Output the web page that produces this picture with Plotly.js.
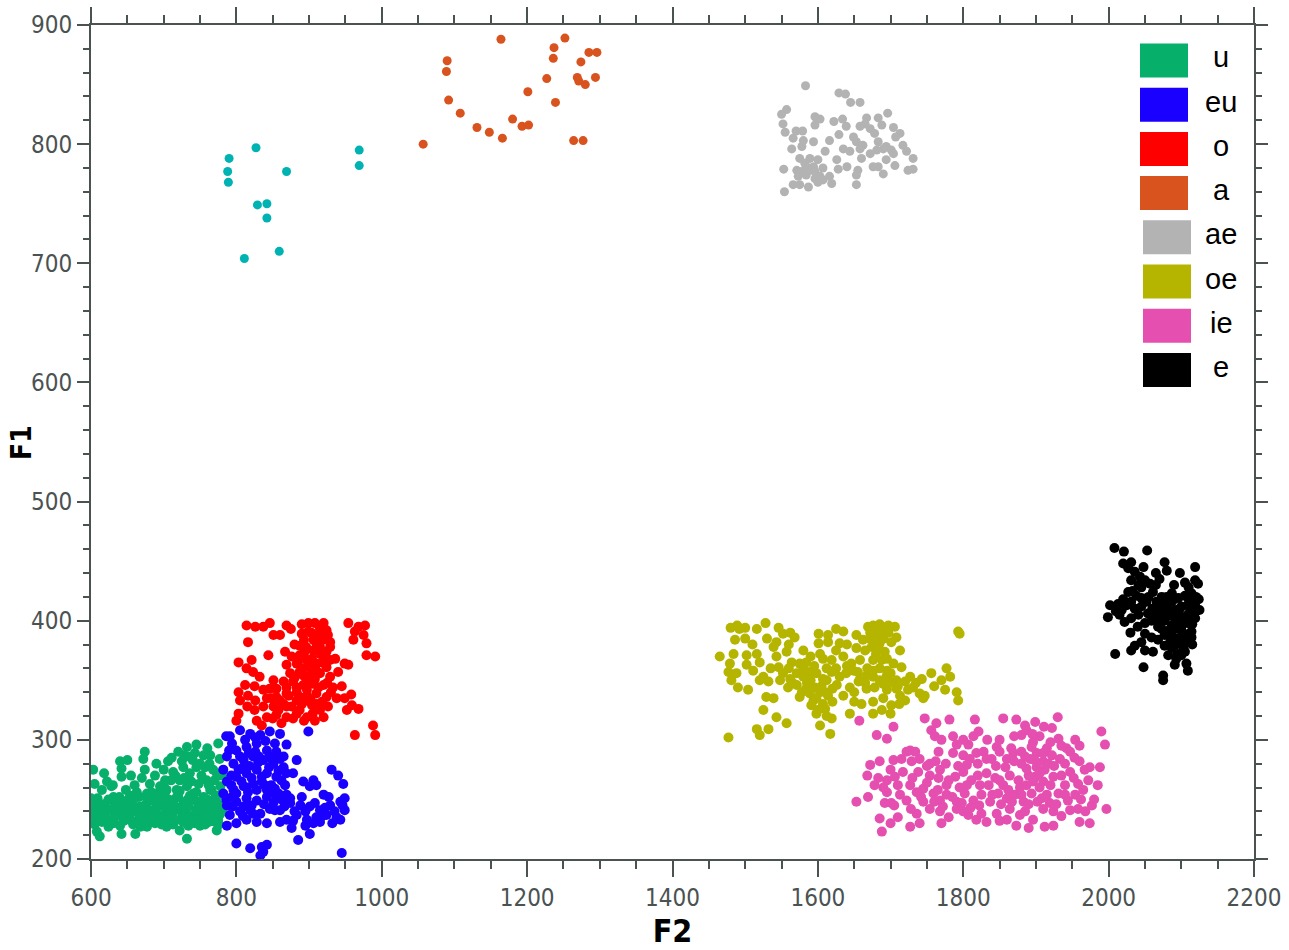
<!DOCTYPE html>
<html>
<head>
<meta charset="utf-8">
<script src="https://cdn.plot.ly/plotly-3.0.1.min.js"></script>
<style>html,body{margin:0;padding:0;background:#fff;}#chart{width:1289px;height:950px;}</style>
</head>
<body>
<div id="chart"></div>
<script>
// ---- data: [F2, F1] pairs ----
const legendNames = ['u','eu','o','a','ae','oe','ie','e'];
const legendColors = ['#06b06a','#1a00ff','#ff0000','#d9531e','#b3b3b3','#b5b500','#e54fb0','#000000'];
const extraColor = '#00b3b3';

const extra_pts = [[827,797],[790,788],[788,777],[789,768],[869,777],[969,795],[969,782],[829,749],[842,750],[842,738],[811,704],[859,710]];

const u_pts = [[601,248],[617,246],[631,249],[647,247],[658,250],[674,245],[688,248],[700,246],[713,249],[727,247],[739,250],[752,246],[766,248],[778,245],
[608,244],[624,242],[638,245],[654,243],[667,244],[681,241],[695,245],[706,243],[720,242],[734,244],[745,241],[759,243],[773,244],
[599,240],[612,238],[628,241],[642,239],[661,240],[672,237],[686,240],[702,238],[716,241],[729,239],[741,237],[755,240],[768,238],[780,241],
[606,236],[622,234],[635,237],[649,235],[665,233],[679,236],[693,234],[709,236],[722,233],[736,235],[750,234],[764,236],[775,233],
[615,231],[631,230],[645,232],[658,229],[672,231],[688,230],[700,232],[713,229],[727,231],[743,230],[757,229],[771,231],
[631,252],[654,253],[677,251],[697,254],[718,252],[736,253],[755,251],[773,253],
[702,256],[722,257],[745,256],[764,258],[780,255],
[603,275],[618,272],[622,265],[628,261],[640,282],[642,276],[642,269],[648,258],[674,290],[672,284],[674,275],[670,268],[681,263],[688,270],[702,266],[706,282],[713,273],[720,290],[725,282],[732,294],[734,286],[745,296],[743,289],[755,287],[764,287],[757,277],[768,275],[775,297],[773,272],[778,261],[722,266],[736,272],[745,277],[748,263],[759,266],[766,258],[732,261],[718,258],[704,258],[690,255],[677,255],[663,256],[695,261],[741,255],[755,252],[771,252],
[612,219],[608,223],[642,221],[661,221],[732,217],[773,224],[624,227],[677,227],[704,227],[722,224],[750,228],[600,246],[600,236],[601,243],[600,251],
[609,251],[624,250],[639,252],[651,250],[666,252],[681,249],[694,251],[707,250],[720,252],[733,250],[746,248],[760,250],[772,249],
[603,243],[616,241],[633,243],[646,241],[660,243],[676,243],[690,242],[704,241],[716,244],[731,242],[747,243],[762,241],[776,242],
[618,238],[633,235],[654,238],[668,236],[684,237],[698,236],[712,238],[726,237],[740,233],[754,237],[770,236],[778,238],
[605,229],[625,232],[640,228],[653,233],[668,227],[683,233],[697,229],[710,233],[734,228],[748,232],[762,231],[776,229],
[700,262],[710,266],[716,270],[728,268],[738,265],[752,270],[762,262],[770,266],[780,270],[727,277],[740,283],[750,280],[763,280],[777,284],[711,285],[760,293],[728,287],[700,275],[690,280],[683,256],[660,262],[655,270],[650,283],[630,262],[615,258],[605,263]];

const eu_pts = [[791,303],[805,308],[819,305],[833,304],[846,307],[860,305],[869,296],[787,286],[800,291],[814,294],[828,297],[842,291],[855,290],[865,286],[782,275],[796,280],[810,283],[823,286],[837,283],[851,280],[865,277],[787,265],[800,269],[814,272],[828,275],[842,272],[855,269],[869,272],[782,255],[796,258],[810,261],[823,263],[839,262],[853,259],[867,262],[787,245],[800,248],[814,251],[828,249],[842,252],[855,251],[791,237],[805,240],[819,241],[833,238],[846,242],[860,241],[874,247],[888,245],[901,244],[915,241],[929,245],[943,248],[949,251],[949,241],[938,235],[924,237],[910,235],[897,233],[883,237],[869,233],[860,231],[842,230],[828,231],[814,233],[800,230],[787,228],[883,283],[878,272],[892,265],[906,266],[901,261],[910,262],[931,275],[940,270],[947,263],[920,254],[890,252],[874,251],[800,213],[819,209],[835,210],[842,212],[833,203],[837,206],[885,216],[901,221],[876,226],[906,230],[945,205],[927,252],[943,233],[915,231],[794,297],[826,290],[849,286],[803,275],[835,269],[816,256],[849,256],[794,252],[821,245],[851,247],[869,254],[810,244],[899,307],
[793,262],[807,265],[821,268],[835,265],[848,262],[862,266],[793,270],[807,276],[818,278],[830,281],[845,277],[858,274],[790,291],[805,286],[817,289],[831,286],[845,285],[860,284],[795,244],[809,236],[823,238],[838,246],[853,241],[866,244],[786,250],[800,255],[814,260],[828,258],[842,258],[858,255],[812,300],[826,302],[840,299],[853,297],[786,303],[880,240],[895,240],[908,247],[922,243],[935,240],[918,236],[932,230],[946,245],[895,228],[878,232],[862,250]];

const o_pts = [[814,396],[826,395],[837,395],[846,398],[869,396],[875,393],[890,397],[899,398],[908,398],[920,398],[954,398],[968,395],[977,396],[851,388],[860,388],[890,389],[899,391],[915,393],[924,392],[816,382],[887,379],[906,384],[917,385],[929,382],[961,384],[979,381],[963,391],[975,388],[803,365],[821,367],[844,371],[867,374],[876,370],[894,374],[906,375],[915,372],[929,378],[936,368],[949,364],[954,363],[979,371],[991,370],[814,360],[823,357],[832,353],[869,363],[883,364],[897,367],[910,364],[924,361],[874,356],[887,357],[901,354],[915,356],[929,353],[851,350],[865,349],[878,349],[892,346],[906,347],[920,346],[933,344],[803,340],[816,337],[826,333],[837,342],[846,343],[855,343],[842,335],[855,336],[869,339],[883,340],[897,337],[910,339],[924,336],[938,335],[949,335],[837,328],[851,328],[865,330],[876,328],[890,330],[904,329],[915,325],[926,328],[959,329],[968,326],[952,325],[803,322],[800,316],[828,316],[842,319],[855,321],[869,319],[883,322],[897,319],[908,316],[920,319],[887,325],[988,312],[991,304],[963,304],[835,312],[901,361],[892,354],[908,351],[883,344],[869,344],[897,333],[883,333],[869,328],[858,325],[920,370],[910,381],[924,374],[915,378],[887,371],[929,367],[897,342],[910,330],
[880,380],[893,384],[903,390],[913,388],[926,388],[896,378],[920,384],[885,366],[904,368],[918,365],[892,360],[910,358],[880,352],[897,349],[913,344],[925,348],[872,337],[887,336],[902,334],[918,332],[930,340],[860,333],[848,335],[878,318],[893,316],[905,322],[862,314],[850,318],[825,325],[815,328],[825,345],[812,346],[805,333],[940,357],[945,345],[958,338]];

const a_pts = [[1164,888],[1090,870],[1089,861],[1092,837],[1108,826],[1131,814],[1148,810],[1166,805],[1180,821],[1193,815],[1202,816],[1201,844],[1227,855],[1236,872],[1237,881],[1252,889],[1239,835],[1274,869],[1285,877],[1296,877],[1269,856],[1271,853],[1280,850],[1294,856],[1264,803],[1277,803],[1057,800]];

const ae_pts = [[1583,849],[1629,843],[1638,842],[1645,835],[1658,835],[1557,829],[1550,825],[1696,826],[1596,823],[1603,821],[1622,819],[1634,821],[1639,815],[1667,822],[1683,822],[1552,817],[1555,810],[1570,811],[1579,811],[1596,816],[1658,815],[1665,817],[1672,813],[1688,816],[1704,814],[1713,809],[1707,806],[1566,805],[1580,803],[1594,802],[1616,803],[1629,808],[1649,806],[1653,802],[1662,799],[1678,809],[1683,802],[1694,798],[1701,795],[1717,799],[1722,794],[1731,788],[1564,796],[1578,798],[1610,794],[1635,796],[1644,794],[1658,796],[1672,792],[1681,795],[1690,796],[1704,792],[1575,788],[1589,788],[1600,787],[1626,787],[1660,788],[1676,781],[1683,781],[1694,787],[1706,782],[1724,778],[1731,779],[1553,779],[1571,778],[1584,781],[1594,781],[1607,780],[1628,779],[1640,781],[1655,778],[1690,775],[1573,773],[1584,774],[1596,771],[1607,770],[1616,773],[1653,774],[1566,766],[1575,766],[1587,764],[1600,768],[1619,767],[1653,766],[1554,760],[1578,777],[1582,784],[1589,778],[1596,777],[1603,773]];

const oe_pts = [[1480,394],[1489,396],[1492,393],[1500,394],[1516,393],[1528,398],[1546,394],[1552,389],[1562,390],[1568,386],[1601,389],[1614,388],[1625,393],[1635,391],[1614,382],[1630,381],[1653,388],[1465,370],[1486,384],[1484,372],[1479,364],[1502,371],[1516,372],[1543,382],[1539,378],[1557,374],[1543,370],[1564,365],[1575,364],[1584,365],[1601,381],[1603,372],[1607,368],[1619,367],[1653,377],[1658,367],[1662,384],[1669,395],[1676,396],[1685,397],[1695,395],[1706,395],[1708,386],[1701,382],[1713,375],[1676,388],[1688,388],[1674,378],[1685,381],[1692,374],[1676,367],[1688,367],[1704,364],[1715,361],[1727,353],[1743,351],[1756,356],[1777,360],[1782,353],[1793,391],[1795,389],[1477,357],[1488,356],[1502,363],[1511,358],[1525,353],[1532,349],[1546,361],[1552,356],[1548,350],[1562,351],[1571,356],[1580,353],[1589,357],[1598,356],[1607,351],[1619,357],[1630,353],[1639,356],[1649,358],[1658,351],[1667,354],[1676,353],[1685,350],[1695,354],[1708,350],[1720,349],[1481,350],[1490,344],[1504,342],[1520,350],[1529,336],[1539,335],[1559,344],[1571,346],[1584,343],[1596,344],[1603,340],[1614,337],[1626,346],[1635,337],[1644,344],[1656,349],[1667,343],[1678,344],[1695,342],[1708,343],[1724,342],[1740,339],[1747,337],[1775,342],[1791,340],[1793,333],[1525,325],[1543,319],[1557,314],[1591,329],[1598,322],[1610,326],[1619,318],[1603,312],[1644,322],[1676,332],[1688,325],[1676,322],[1701,329],[1516,309],[1532,309],[1520,304],[1477,302],[1617,305],[1745,335],[1713,337],[1731,344],[1646,364],[1635,370],[1676,358],[1695,358],[1589,339],[1575,336],[1594,333],[1607,330],[1676,392],[1690,391],[1681,384],[1680,393],[1672,390],[1690,385],[1683,378],[1697,390],
[1560,360],[1580,360],[1595,362],[1612,360],[1625,360],[1640,362],[1655,357],[1668,360],[1685,360],[1700,356],[1565,348],[1585,348],[1605,345],[1620,343],[1650,340],[1665,348],[1690,347],[1700,348],[1710,345],[1735,348],[1760,345],[1770,350],[1590,350],[1612,350],[1680,372],[1695,368],[1665,375],[1578,340],[1598,335],[1610,340],[1500,385],[1510,380],[1530,385],[1520,365],[1535,360],[1560,380],[1580,375],[1590,370],[1625,375],[1640,380],[1600,325],[1612,320],[1620,332],[1650,332],[1660,330],[1690,335],[1700,322],[1712,330],[1720,333],[1682,395],[1692,392],[1697,396],[1671,385],[1686,394]];

const ie_pts = [[1657,316],[1681,304],[1695,301],[1704,311],[1747,318],[1763,314],[1781,317],[1816,317],[1855,318],[1873,317],[1885,312],[1899,315],[1911,311],[1922,310],[1930,319],[1756,308],[1761,303],[1770,300],[1786,303],[1791,296],[1807,296],[1814,303],[1821,307],[1846,294],[1866,293],[1880,304],[1887,308],[1896,298],[1905,303],[1915,293],[1931,301],[1942,293],[1954,300],[1990,307],[1995,296],[1672,279],[1685,282],[1704,283],[1715,284],[1727,291],[1734,290],[1740,284],[1754,280],[1766,290],[1768,275],[1786,289],[1800,287],[1809,284],[1818,289],[1828,290],[1839,284],[1850,290],[1860,284],[1869,289],[1880,290],[1892,284],[1901,289],[1910,282],[1922,287],[1933,284],[1947,290],[1960,282],[1974,277],[1988,277],[1683,268],[1695,266],[1706,269],[1717,273],[1727,262],[1738,273],[1745,259],[1754,270],[1766,268],[1777,262],[1789,269],[1800,273],[1811,266],[1823,262],[1832,272],[1844,268],[1855,262],[1864,270],[1876,266],[1887,262],[1899,269],[1910,265],[1924,269],[1935,270],[1947,273],[1958,263],[1972,266],[1653,248],[1669,252],[1692,247],[1701,247],[1695,256],[1713,254],[1722,249],[1736,256],[1745,248],[1759,255],[1768,249],[1777,254],[1791,248],[1802,255],[1814,249],[1825,254],[1837,248],[1848,255],[1860,251],[1871,254],[1883,248],[1894,255],[1908,251],[1919,247],[1931,255],[1944,249],[1954,254],[1736,238],[1754,242],[1768,240],[1791,242],[1807,237],[1818,233],[1832,231],[1846,238],[1864,242],[1878,237],[1896,233],[1910,242],[1924,240],[1947,241],[1958,242],[1977,245],[1960,231],[1974,230],[1997,242],[1685,234],[1688,223],[1727,227],[1873,228],[1912,227],[1924,228],[1722,290],[1729,282],[1887,276],[1901,277],[1912,275],[1894,294],[1905,272],[1880,280],[1917,280],[1896,265],
[1710,262],[1730,268],[1750,264],[1765,258],[1780,266],[1795,260],[1805,262],[1820,270],[1835,262],[1850,266],[1862,258],[1878,260],[1890,270],[1905,260],[1920,262],[1940,262],[1952,268],[1965,258],[1985,262],[1705,245],[1728,242],[1742,252],[1760,248],[1772,244],[1785,252],[1798,247],[1810,243],[1822,245],[1840,254],[1852,246],[1867,248],[1880,254],[1890,246],[1902,248],[1915,254],[1928,246],[1940,254],[1962,250],[1750,278],[1762,282],[1776,280],[1793,278],[1805,279],[1820,280],[1832,284],[1845,278],[1858,277],[1870,282],[1885,286],[1898,283],[1910,289],[1925,278],[1940,280],[1953,285],[1967,275],[1700,275],[1690,260],[1678,262],[1668,270],[1800,300],[1833,300],[1850,300],[1870,303],[1920,298],[1935,295],[1960,295],[1895,305],[1780,235],[1800,240],[1825,238],[1860,233],[1885,240],[1935,236],[1890,226],[1850,232],[1770,230],[1740,230],[1710,235],[1700,230],[1980,250],[1968,240]];

const e_pts = [[2008,461],[2021,458],[2053,459],[2020,448],[2031,449],[2027,444],[2036,441],[2043,437],[2031,434],[2050,434],[2057,431],[2041,430],[2077,449],[2080,442],[2119,445],[2119,434],[2123,431],[2061,424],[2073,420],[2066,416],[2077,414],[2087,416],[2096,419],[2105,421],[2114,423],[2087,423],[2002,413],[2013,414],[2025,413],[2036,410],[2045,412],[2052,416],[2027,424],[2038,421],[2045,419],[1999,403],[2015,405],[2022,399],[2031,402],[2041,405],[2054,406],[2064,407],[2073,407],[2082,409],[2091,409],[2100,412],[2109,413],[2119,413],[2125,409],[2077,400],[2091,402],[2100,403],[2109,405],[2119,402],[2087,396],[2100,395],[2109,398],[2073,393],[2059,400],[2050,389],[2059,386],[2068,384],[2077,388],[2087,388],[2096,385],[2105,388],[2114,386],[2045,382],[2036,379],[2031,375],[2077,379],[2087,377],[2100,381],[2109,382],[2082,371],[2093,368],[2105,374],[2009,372],[2050,375],[2061,374],[2107,364],[2109,358],[2048,361],[2075,354],[2075,350],[2091,363],[2100,371],[2096,407],[2105,402],[2087,406],[2114,391],[2096,393],[2031,416],[2018,409],
[2010,408],[2020,418],[2033,425],[2045,428],[2055,420],[2065,430],[2070,410],[2080,420],[2090,418],[2098,410],[2110,418],[2120,420],[2092,398],[2083,392],[2102,390],[2115,397],[2120,408],[2082,404],[2068,395],[2093,380],[2103,376],[2115,380],[2095,372],[2085,383],[2070,402],[2040,395],[2030,390],[2060,410],[2050,398],[2112,410],[2124,418],[2065,440],[2048,445],[2070,435],[2090,430],[2105,432],[2098,440],[2110,428]];

const seriesPts = [u_pts, eu_pts, o_pts, a_pts, ae_pts, oe_pts, ie_pts, e_pts];

// ---- traces ----
const MS = 10;
const traces = [{
  type:'scatter', mode:'markers', name:'', showlegend:false, hoverinfo:'skip',
  x: extra_pts.map(p=>p[0]), y: extra_pts.map(p=>p[1]),
  marker:{size:9, color:extraColor}
}];
legendNames.forEach((nm,i)=>{
  const pts = seriesPts[i];
  traces.push({type:'scatter', mode:'markers', name:nm, showlegend:false,
    x: pts.map(p=>p[0]), y: pts.map(p=>p[1]),
    marker:{size:(pts.length<100 ? 9 : MS), color:legendColors[i]}});
});

// ---- layout geometry (pixels) ----
const W=1289, H=950, L=91, R=35, T=25, B=91;
const pw = W-L-R, ph = H-T-B;
const pxX = px => (px-L)/pw;
const pxY = py => (H-B-py)/ph;
const AX = '#4a5252';

const shapes = [];
const annotations = [];
legendNames.forEach((nm,i)=>{
  const cy = 60.5 + 44.2*i;
  const sx = 1140 + (i>=4 ? 3 : 0);
  shapes.push({type:'rect', xref:'paper', yref:'paper', layer:'above',
    x0:pxX(sx), x1:pxX(sx+48), y0:pxY(cy+17), y1:pxY(cy-17),
    fillcolor:legendColors[i], line:{width:0}});
  annotations.push({xref:'paper', yref:'paper', x:pxX(1221), y:pxY(cy-3),
    xanchor:'center', yanchor:'middle', showarrow:false, text:nm,
    font:{family:'Liberation Sans, Arial, sans-serif', size:29, color:'#000'}});
});
// y-axis title placed explicitly
annotations.push({xref:'paper', yref:'paper', x:pxX(21), y:pxY(443), xanchor:'center', yanchor:'middle',
  showarrow:false, textangle:-90, text:'<b>F1</b>',
  font:{family:'"DejaVu Sans Condensed", "DejaVu Sans", sans-serif', size:28, color:'#000'}});
// axis line overshoot at corners
const ext = (x0,y0,x1,y1)=>shapes.push({type:'line', xref:'paper', yref:'paper', layer:'above',
  x0:pxX(x0), y0:pxY(y0), x1:pxX(x1), y1:pxY(y1), line:{color:AX, width:2}});
ext(L, T, L, T-16);
ext(W-R, T, W-R, T-16);
ext(W-R, T, W-R+12, T);
ext(W-R, H-B, W-R+12, H-B);

const tickFont = {family:'"DejaVu Sans Condensed", "DejaVu Sans", sans-serif', size:24, color:AX};
const titleFont = {family:'"DejaVu Sans Condensed", "DejaVu Sans", sans-serif', size:32, color:'#000'};

const layout = {
  width:W, height:H,
  margin:{l:L, r:R, t:T, b:B, pad:0},
  paper_bgcolor:'#fff', plot_bgcolor:'#fff',
  showlegend:false,
  xaxis:{range:[600,2200], tick0:600, dtick:200, ticks:'outside', ticklen:16, tickwidth:2, tickcolor:AX,
    showline:true, linecolor:AX, linewidth:2, mirror:'allticks', showgrid:false, zeroline:false,
    tickfont:tickFont, automargin:false,
    minor:{dtick:50, ticks:'outside', ticklen:8, tickwidth:2, tickcolor:AX, showgrid:false},
    title:{text:'<b>F2</b>', font:titleFont, standoff:15}},
  yaxis:{range:[200,900], tick0:200, dtick:100, ticks:'outside', ticklen:12, tickwidth:2, tickcolor:AX,
    showline:true, linecolor:AX, linewidth:2, mirror:'allticks', showgrid:false, zeroline:false,
    tickfont:tickFont, automargin:false,
    minor:{dtick:20, ticks:'outside', ticklen:6, tickwidth:2, tickcolor:AX, showgrid:false}},
  shapes:shapes,
  annotations:annotations
};

Plotly.newPlot('chart', traces, layout, {displayModeBar:false, staticPlot:true});
</script>
</body>
</html>
